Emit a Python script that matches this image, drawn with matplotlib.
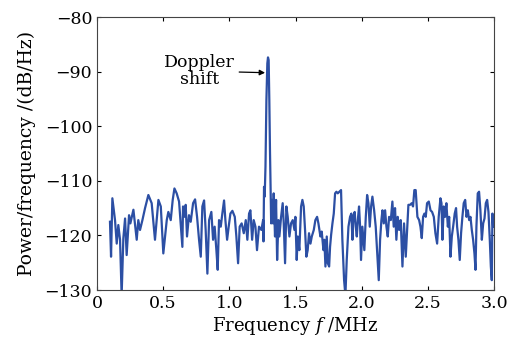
import matplotlib
matplotlib.use('Agg')
from matplotlib import pyplot as plt

# frequency (MHz) and power spectral density (dB/Hz)
freq = [0.098, 0.106, 0.116, 0.128, 0.136, 0.149, 0.161, 0.174, 0.186, 0.199,
        0.212, 0.224, 0.242, 0.252, 0.275, 0.300, 0.312, 0.325, 0.343, 0.363,
        0.388, 0.413, 0.438, 0.464, 0.482, 0.501, 0.527, 0.539, 0.557, 0.572,
        0.585, 0.602, 0.620, 0.645, 0.650, 0.663, 0.670, 0.680, 0.695, 0.708,
        0.726, 0.741, 0.756, 0.771, 0.784, 0.796, 0.809, 0.821, 0.834, 0.847,
        0.864, 0.877, 0.889, 0.902, 0.912, 0.922, 0.935, 0.947, 0.960, 0.970,
        0.983, 0.995, 1.008, 1.023, 1.041, 1.053, 1.066, 1.078, 1.093, 1.109,
        1.124, 1.136, 1.149, 1.159, 1.172, 1.184, 1.197, 1.209, 1.224, 1.242,
        1.255, 1.258, 1.262, 1.267, 1.273, 1.280, 1.287, 1.292, 1.297, 1.302,
        1.307, 1.312, 1.316, 1.323, 1.330, 1.335, 1.345, 1.353, 1.361, 1.371,
        1.378, 1.391, 1.403, 1.411, 1.421, 1.431, 1.441, 1.454, 1.466, 1.479,
        1.492, 1.499, 1.509, 1.517, 1.529, 1.542, 1.552, 1.562, 1.572, 1.582,
        1.592, 1.602, 1.613, 1.623, 1.638, 1.650, 1.663, 1.673, 1.688, 1.698,
        1.711, 1.718, 1.726, 1.736, 1.744, 1.754, 1.761, 1.769, 1.779, 1.789,
        1.799, 1.809, 1.819, 1.832, 1.844, 1.854, 1.867, 1.877, 1.887, 1.900,
        1.912, 1.922, 1.930, 1.937, 1.947, 1.955, 1.963, 1.973, 1.980, 1.988,
        1.995, 2.005, 2.013, 2.020, 2.031, 2.041, 2.051, 2.061, 2.071, 2.081,
        2.094, 2.106, 2.119, 2.129, 2.139, 2.149, 2.157, 2.167, 2.177, 2.187,
        2.197, 2.207, 2.220, 2.232, 2.242, 2.252, 2.262, 2.272, 2.283, 2.295,
        2.308, 2.320, 2.333, 2.343, 2.353, 2.366, 2.378, 2.388, 2.398, 2.408,
        2.421, 2.434, 2.444, 2.454, 2.464, 2.474, 2.484, 2.494, 2.507, 2.520,
        2.532, 2.545, 2.557, 2.570, 2.582, 2.595, 2.603, 2.610, 2.620, 2.630,
        2.640, 2.651, 2.661, 2.671, 2.681, 2.691, 2.703, 2.713, 2.721, 2.731,
        2.741, 2.751, 2.761, 2.771, 2.782, 2.792, 2.802, 2.812, 2.822, 2.832,
        2.842, 2.852, 2.860, 2.867, 2.877, 2.887, 2.897, 2.908, 2.918, 2.928,
        2.938, 2.948, 2.958, 2.968, 2.976, 2.983, 2.988, 2.993]
power = [-117.5, -123.9, -113.2, -115.7, -117.2, -121.5, -118.1, -120.8, -131.0, -120.5,
         -116.9, -123.6, -116.3, -117.8, -115.3, -120.8, -117.2, -119.0, -117.2, -115.0,
         -112.6, -114.1, -120.8, -113.5, -114.7, -123.3, -117.2, -115.7, -117.2, -113.5,
         -111.4, -112.3, -113.8, -122.1, -114.7, -116.6, -114.4, -120.2, -116.3, -117.5,
         -114.1, -113.4, -116.6, -120.8, -123.9, -114.7, -113.6, -119.0, -127.0, -117.2,
         -115.7, -120.8, -118.4, -122.7, -126.3, -117.2, -118.4, -116.0, -113.6, -117.2,
         -120.8, -118.4, -116.0, -115.5, -116.6, -120.2, -125.1, -118.4, -117.8, -119.6,
         -117.2, -120.8, -116.0, -115.4, -120.8, -117.2, -118.4, -122.7, -118.4, -119.0,
         -117.2, -121.1, -111.1, -112.9, -107.4, -95.2, -88.5, -87.4, -87.9, -95.2,
         -104.4, -111.7, -117.8, -113.5, -117.8, -112.3, -120.2, -113.5, -124.5, -117.2,
         -120.2, -116.6, -114.1, -117.8, -125.1, -114.7, -116.6, -120.2, -117.8, -117.2,
         -119.0, -116.6, -124.5, -120.2, -122.7, -114.7, -113.5, -114.7, -119.0, -123.9,
         -122.7, -119.6, -121.5, -120.2, -119.0, -117.2, -116.6, -117.8, -120.2, -119.3,
         -122.7, -120.8, -125.7, -120.2, -125.1, -125.7, -122.1, -119.9, -117.8, -116.0,
         -112.3, -112.0, -112.3, -112.0, -111.7, -120.8, -128.2, -131.0, -124.5, -118.4,
         -116.6, -116.0, -120.8, -116.6, -115.7, -118.4, -120.2, -116.6, -114.7, -118.4,
         -124.5, -118.4, -120.8, -122.7, -116.6, -112.6, -114.1, -118.4, -114.7, -112.9,
         -115.4, -118.4, -123.9, -128.2, -120.8, -117.2, -115.4, -117.8, -115.4, -118.4,
         -120.2, -116.6, -117.2, -113.8, -118.4, -115.0, -120.8, -116.6, -119.0, -117.2,
         -125.7, -117.8, -123.9, -119.0, -114.4, -114.4, -114.1, -114.7, -111.7, -111.7,
         -116.6, -117.2, -118.4, -120.5, -116.6, -116.0, -116.6, -114.1, -113.8, -115.4,
         -115.7, -116.6, -119.6, -121.5, -116.6, -113.2, -114.1, -120.8, -114.7, -116.6,
         -114.1, -118.4, -116.6, -123.9, -120.2, -118.4, -116.0, -115.0, -118.4, -120.8,
         -124.5, -119.6, -116.6, -114.1, -113.5, -116.6, -115.4, -117.2, -116.6, -119.0,
         -120.8, -123.3, -126.3, -118.4, -112.3, -112.0, -115.4, -120.8, -117.8, -116.9,
         -114.1, -113.5, -115.7, -120.8, -125.7, -128.2, -116.0, -118.4]

xticks = [0, 0.5, 1.0, 1.5, 2.0, 2.5, 3.0]
xticklabels = ['0', '0.5', '1.0', '1.5', '2.0', '2.5', '3.0']
yticks = [-130, -120, -110, -100, -90, -80]

plt.rcParams['font.family'] = 'DejaVu Serif'
plt.rcParams['mathtext.fontset'] = 'dejavuserif'

fig = plt.figure(figsize=(5.23, 3.38), dpi=100)
ax = fig.add_axes([0.1855, 0.142, 0.7591, 0.8077])
ax.plot(freq, power, color='#2c4fa4', lw=1.6)

ax.set_xlim(0, 3.0)
ax.set_ylim(-130, -80)
ax.set_xticks(xticks)
ax.set_xticklabels(xticklabels)
ax.set_yticks(yticks)
ax.tick_params(direction='in', top=True, right=True, length=3, labelsize=12.5)
ax.tick_params(axis='x', pad=3.5)
ax.tick_params(axis='y', pad=3.5)
for s in ax.spines.values():
    s.set_linewidth(0.8)
    s.set_color('#444444')

ax.set_xlabel('Frequency $f$ /MHz', fontsize=13, labelpad=2)
ax.set_ylabel('Power/frequency /(dB/Hz)', fontsize=13.5, labelpad=6)

ax.annotate('Doppler\nshift', xy=(1.27, -90.2), xytext=(0.775, -89.9),
            ha='center', va='center', fontsize=12.5, linespacing=1.0,
            arrowprops=dict(arrowstyle='-|>', color='black', lw=0.9, mutation_scale=8,
                            shrinkA=1, shrinkB=0))

fig.savefig('out.png', dpi=100)
